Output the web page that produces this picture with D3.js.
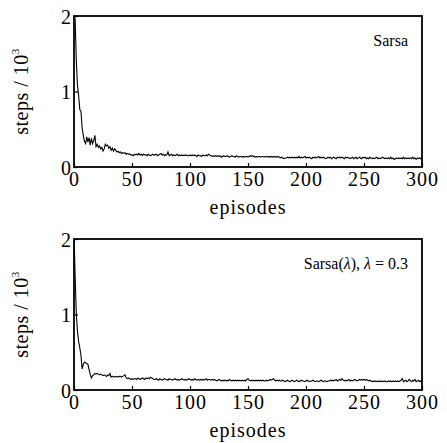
<!DOCTYPE html>
<html>
<head>
<meta charset="utf-8">
<script src="https://cdn.jsdelivr.net/npm/d3@7"></script>
<style>
  body { margin: 0; background: #fff; }
  svg text { font-family: "Liberation Serif", "Times New Roman", Times, "DejaVu Serif", serif; fill: #000; }
</style>
</head>
<body>
<div id="chart"></div>
<script>
// steps per episode, in units of 10^3, episodes 0..300
const sarsaSteps = [
  2.05, 1.95, 1.40, 1.08, 0.95, 0.76, 0.74, 0.52, 0.42, 0.34,
  0.31, 0.40, 0.33, 0.39, 0.29, 0.38, 0.31, 0.35, 0.42, 0.27,
  0.30, 0.26, 0.28, 0.24, 0.26, 0.21, 0.24, 0.30, 0.28, 0.29,
  0.25, 0.27, 0.22, 0.25, 0.21, 0.24, 0.22, 0.20, 0.21, 0.19,
  0.20, 0.18, 0.19, 0.18, 0.19, 0.17, 0.18, 0.17, 0.17, 0.16,
  0.16, 0.15, 0.17, 0.16, 0.17, 0.16, 0.18, 0.16, 0.17, 0.15,
  0.17, 0.16, 0.16, 0.15, 0.17, 0.16, 0.15, 0.16, 0.17, 0.16,
  0.16, 0.17, 0.15, 0.16, 0.17, 0.18, 0.16, 0.17, 0.15, 0.16,
  0.16, 0.20, 0.15, 0.16, 0.17, 0.15, 0.16, 0.15, 0.16, 0.17,
  0.15, 0.16, 0.15, 0.16, 0.15, 0.16, 0.15, 0.16, 0.15, 0.15,
  0.16, 0.15, 0.16, 0.15, 0.16, 0.15, 0.14, 0.16, 0.15, 0.15,
  0.14, 0.16, 0.15, 0.15, 0.16, 0.15, 0.17, 0.16, 0.15, 0.14,
  0.15, 0.14, 0.15, 0.14, 0.15, 0.14, 0.15, 0.13, 0.14, 0.15,
  0.14, 0.14, 0.15, 0.14, 0.13, 0.14, 0.15, 0.14, 0.14, 0.13,
  0.15, 0.14, 0.13, 0.14, 0.14, 0.13, 0.14, 0.13, 0.14, 0.14,
  0.13, 0.14, 0.15, 0.14, 0.15, 0.14, 0.13, 0.14, 0.13, 0.14,
  0.14, 0.13, 0.14, 0.14, 0.13, 0.14, 0.14, 0.13, 0.14, 0.13,
  0.14, 0.13, 0.14, 0.13, 0.14, 0.13, 0.14, 0.13, 0.12, 0.13,
  0.12, 0.11, 0.12, 0.12, 0.13, 0.12, 0.13, 0.12, 0.13, 0.12,
  0.13, 0.12, 0.13, 0.12, 0.14, 0.12, 0.13, 0.12, 0.13, 0.14,
  0.12, 0.13, 0.12, 0.13, 0.12, 0.11, 0.13, 0.12, 0.13, 0.12,
  0.13, 0.14, 0.12, 0.13, 0.12, 0.13, 0.12, 0.11, 0.12, 0.13,
  0.12, 0.13, 0.11, 0.12, 0.13, 0.12, 0.11, 0.13, 0.12, 0.13,
  0.12, 0.13, 0.12, 0.11, 0.13, 0.12, 0.13, 0.12, 0.11, 0.12,
  0.13, 0.11, 0.12, 0.13, 0.11, 0.12, 0.13, 0.12, 0.11, 0.13,
  0.12, 0.13, 0.11, 0.12, 0.11, 0.13, 0.12, 0.11, 0.12, 0.11,
  0.12, 0.13, 0.11, 0.12, 0.11, 0.12, 0.13, 0.12, 0.11, 0.12,
  0.11, 0.12, 0.11, 0.13, 0.11, 0.12, 0.10, 0.11, 0.12, 0.11,
  0.12, 0.11, 0.12, 0.11, 0.13, 0.11, 0.12, 0.11, 0.12, 0.11,
  0.12, 0.11, 0.13, 0.11, 0.12, 0.10, 0.12, 0.11, 0.12, 0.11,
  0.13
];

const sarsaLambdaSteps = [
  2.05, 1.50, 1.00, 0.78, 0.64, 0.56, 0.46, 0.28, 0.34, 0.37,
  0.36, 0.35, 0.34, 0.27, 0.21, 0.16, 0.19, 0.20, 0.22, 0.21,
  0.22, 0.21, 0.20, 0.21, 0.20, 0.19, 0.20, 0.19, 0.18, 0.20,
  0.19, 0.22, 0.17, 0.18, 0.17, 0.18, 0.17, 0.18, 0.17, 0.18,
  0.18, 0.17, 0.18, 0.19, 0.20, 0.16, 0.15, 0.16, 0.15, 0.14,
  0.15, 0.14, 0.15, 0.15, 0.14, 0.16, 0.15, 0.14, 0.15, 0.16,
  0.15, 0.14, 0.16, 0.15, 0.16, 0.15, 0.17, 0.16, 0.15, 0.14,
  0.14, 0.15, 0.14, 0.13, 0.15, 0.14, 0.13, 0.14, 0.15, 0.14,
  0.14, 0.13, 0.15, 0.14, 0.14, 0.13, 0.14, 0.15, 0.14, 0.13,
  0.14, 0.13, 0.14, 0.15, 0.14, 0.13, 0.14, 0.13, 0.14, 0.15,
  0.14, 0.13, 0.14, 0.13, 0.15, 0.14, 0.13, 0.14, 0.13, 0.14,
  0.13, 0.14, 0.13, 0.14, 0.15, 0.13, 0.14, 0.14, 0.13, 0.14,
  0.13, 0.14, 0.13, 0.12, 0.13, 0.14, 0.13, 0.12, 0.13, 0.12,
  0.13, 0.12, 0.13, 0.12, 0.14, 0.13, 0.12, 0.13, 0.12, 0.13,
  0.12, 0.13, 0.12, 0.13, 0.12, 0.13, 0.12, 0.13, 0.12, 0.14,
  0.15, 0.13, 0.12, 0.13, 0.12, 0.13, 0.12, 0.13, 0.12, 0.13,
  0.12, 0.13, 0.12, 0.13, 0.12, 0.12, 0.13, 0.12, 0.13, 0.14,
  0.13, 0.14, 0.15, 0.13, 0.12, 0.13, 0.12, 0.13, 0.12, 0.12,
  0.13, 0.12, 0.11, 0.12, 0.13, 0.12, 0.11, 0.12, 0.13, 0.12,
  0.11, 0.12, 0.13, 0.12, 0.11, 0.12, 0.13, 0.12, 0.12, 0.11,
  0.12, 0.13, 0.12, 0.11, 0.12, 0.12, 0.13, 0.12, 0.11, 0.12,
  0.12, 0.11, 0.12, 0.13, 0.12, 0.11, 0.12, 0.12, 0.11, 0.12,
  0.12, 0.13, 0.12, 0.13, 0.12, 0.13, 0.14, 0.12, 0.13, 0.14,
  0.13, 0.15, 0.13, 0.12, 0.13, 0.12, 0.13, 0.14, 0.12, 0.13,
  0.12, 0.13, 0.14, 0.13, 0.12, 0.13, 0.14, 0.13, 0.14, 0.13,
  0.14, 0.13, 0.14, 0.13, 0.12, 0.13, 0.12, 0.11, 0.12, 0.11,
  0.12, 0.11, 0.12, 0.11, 0.12, 0.11, 0.12, 0.11, 0.12, 0.11,
  0.11, 0.12, 0.11, 0.12, 0.11, 0.12, 0.11, 0.12, 0.11, 0.12,
  0.11, 0.12, 0.13, 0.15, 0.11, 0.12, 0.13, 0.11, 0.12, 0.14,
  0.12, 0.11, 0.13, 0.12, 0.14, 0.11, 0.12, 0.13, 0.11, 0.12,
  0.11
];

const xTicks = [0, 50, 100, 150, 200, 250, 300];
const yTicks = [0, 1, 2];

const panels = [
  { name: "Sarsa", values: sarsaSteps },
  { name: "Sarsa(λ)", values: sarsaLambdaSteps }
];

var width = 447, height = 443;
var margin = { left: 74, top: 16 };
var plotW = 348, plotH = 151, panelGap = 223;
var serif = "'Liberation Serif', 'Times New Roman', Times, 'DejaVu Serif', serif";

var svg = d3.select("#chart")
  .append("svg")
  .attr("width", width)
  .attr("height", height)
  .attr("font-family", serif);

var x = d3.scaleLinear().domain([0, 300]).range([0, plotW]);
var y = d3.scaleLinear().domain([0, 2]).range([plotH, 0]);

var line = d3.line()
  .x((d, i) => x(i))
  .y(d => y(d));

panels.forEach((p, k) => {
  var g = svg.append("g")
    .attr("transform", `translate(${margin.left},${margin.top + k * panelGap})`);

  g.append("clipPath").attr("id", "clip" + k)
    .append("rect").attr("width", plotW).attr("height", plotH);

  g.append("path")
    .datum(p.values)
    .attr("clip-path", `url(#clip${k})`)
    .attr("fill", "none")
    .attr("stroke", "#000")
    .attr("stroke-width", 1.1)
    .attr("d", line);

  // inward ticks
  var xAxis = g.append("g")
    .attr("transform", `translate(0,${plotH})`)
    .call(d3.axisBottom(x).tickValues(xTicks).tickFormat(d3.format("d"))
      .tickSize(-4).tickPadding(10).tickSizeOuter(0))
    .attr("font-family", serif);
  xAxis.select(".domain").remove();
  xAxis.selectAll("line").attr("stroke-width", 1.2);
  xAxis.selectAll("text")
    .attr("font-size", 20)
    .attr("letter-spacing", 1)
    .attr("dy", "0.72em")
    .attr("y", 5);

  var yAxis = g.append("g")
    .call(d3.axisLeft(y).tickValues(yTicks).tickFormat(d3.format("d"))
      .tickSize(-4).tickPadding(3).tickSizeOuter(0))
    .attr("font-family", serif);
  yAxis.select(".domain").remove();
  yAxis.selectAll("line").attr("stroke-width", 1.2);
  yAxis.selectAll("text").attr("font-size", 20).attr("dy", "0.35em");

  g.append("rect")
    .attr("width", plotW)
    .attr("height", plotH)
    .attr("fill", "none")
    .attr("stroke", "#000")
    .attr("stroke-width", 1.8);

  // x label
  g.append("text")
    .attr("x", plotW / 2)
    .attr("y", plotH + 47)
    .attr("text-anchor", "middle")
    .attr("font-size", 20)
    .attr("letter-spacing", 1)
    .text("episodes");

  // y label
  var yl = g.append("text")
    .attr("transform", `translate(-46,${plotH / 2}) rotate(-90)`)
    .attr("text-anchor", "middle")
    .attr("font-size", 20)
    .attr("letter-spacing", 0.5);
  yl.append("tspan").text("steps / 10");
  yl.append("tspan").attr("font-size", 11).attr("dy", -9).text("3");

  // legend text
  var lt = g.append("text")
    .attr("x", plotW - 14)
    .attr("y", 30)
    .attr("text-anchor", "end")
    .attr("font-size", 16);
  if (k === 0) {
    lt.text(p.name);
  } else {
    lt.append("tspan").text("Sarsa(");
    lt.append("tspan").attr("font-style", "italic").text("λ");
    lt.append("tspan").text("), ");
    lt.append("tspan").attr("font-style", "italic").text("λ");
    lt.append("tspan").text(" = 0.3");
  }
});
</script>
</body>
</html>
